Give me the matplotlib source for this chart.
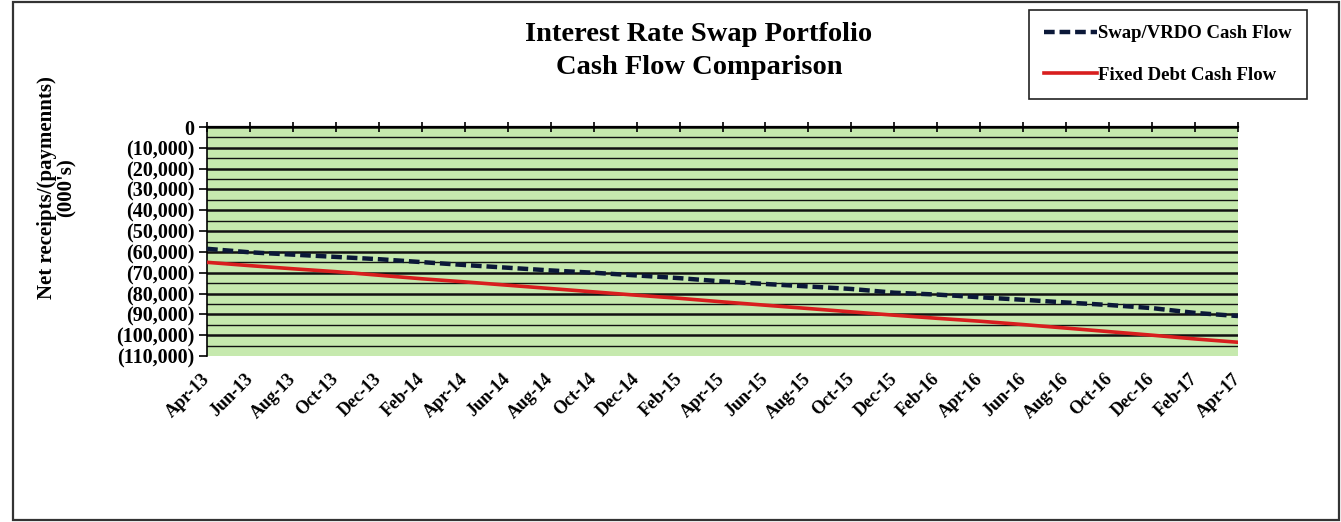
import numpy as np
import matplotlib
matplotlib.use('Agg')
import matplotlib.pyplot as plt
from matplotlib.patches import Rectangle
from matplotlib.ticker import FuncFormatter, MultipleLocator

# tick labels every two months, Apr-13 .. Apr-17
months = ['Apr-13', 'Jun-13', 'Aug-13', 'Oct-13', 'Dec-13', 'Feb-14', 'Apr-14',
          'Jun-14', 'Aug-14', 'Oct-14', 'Dec-14', 'Feb-15', 'Apr-15', 'Jun-15',
          'Aug-15', 'Oct-15', 'Dec-15', 'Feb-16', 'Apr-16', 'Jun-16', 'Aug-16',
          'Oct-16', 'Dec-16', 'Feb-17', 'Apr-17']

# net cash flow (000's) at each labelled month
swap_vrdo = [-58500, -60200, -61300, -62400, -63500, -64900, -66300, -67600,
             -68900, -70000, -71300, -72600, -74200, -75400, -76600, -77800,
             -79600, -80500, -81800, -83000, -84300, -85500, -87000, -89300,
             -90800]
fixed_debt = [-65000, -66600, -68100, -69500, -71200, -72900, -74400, -76000,
              -77600, -79200, -80800, -82300, -84000, -85600, -87200, -88800,
              -90400, -91900, -93300, -94900, -96600, -98300, -100000, -101800,
              -103400]

plt.rcParams['font.family'] = 'Liberation Serif'
plt.rcParams['font.weight'] = 'bold'


def fmt_money(v, pos):
    if v == 0:
        return '0'
    if v < 0:
        return f'({-v:,.0f})'
    return f'{v:,.0f}'


fig = plt.figure(figsize=(13.41, 5.22), dpi=100)
ax = fig.add_axes([0.1544, 0.318, 0.7688, 0.4387])
ax.set_facecolor('#c6e9ae')

x = np.arange(len(months))
ax.set_xlim(0, len(months) - 1)
ax.set_ylim(-110000, 0)

# horizontal grid: heavy every 10k, lighter every 5k
for gy in np.arange(-105000, 1, 5000):
    heavy = gy % 10000 == 0
    ax.axhline(gy, color='#111111', lw=1.8 if heavy else 1.0, zorder=1)

ax.plot(x, fixed_debt, color='#d81e1e', lw=2.6, zorder=3, label='Fixed Debt Cash Flow')
ax.plot(x, swap_vrdo, color='#0b1838', lw=3.2, ls=(0, (2.4, 1.1)), zorder=4,
        label='Swap/VRDO Cash Flow')

ax.yaxis.set_major_locator(MultipleLocator(10000))
ax.yaxis.set_major_formatter(FuncFormatter(fmt_money))
ax.tick_params(axis='y', direction='out', length=6, width=1.2, labelsize=14.5, pad=3)

ax.set_xticks(x)
ax.set_xticklabels(months, rotation=45, ha='right', va='center', rotation_mode='anchor',
                   fontsize=13, fontweight='bold')
ax.tick_params(axis='x', top=True, bottom=False, labeltop=False, labelbottom=True,
               direction='inout', length=7, width=1.2, pad=11)

for side in ['right', 'bottom']:
    ax.spines[side].set_visible(False)
ax.spines['left'].set_linewidth(1.2)
ax.spines['top'].set_linewidth(1.6)

fig.text(699 / 1341, 1 - 51 / 522, 'Interest Rate Swap Portfolio\nCash Flow Comparison',
         ha='center', va='center', fontsize=20.5, fontweight='bold', linespacing=1.45)

fig.text(57 / 1341, 1 - 188 / 522, "Net receipts/(paymennts)\n(000's)",
         ha='center', va='center', rotation=90, fontsize=15, fontweight='bold',
         multialignment='center', linespacing=1.0)

handles, labels = ax.get_legend_handles_labels()
leg = fig.legend(handles[::-1], labels[::-1], loc='upper right',
                 bbox_to_anchor=(1307 / 1341, 1 - 10 / 522), fancybox=False,
                 framealpha=1, edgecolor='#222222', fontsize=13.5,
                 handlelength=2.8, handletextpad=0.1, labelspacing=1.3,
                 borderpad=0.8, borderaxespad=0)
leg.get_frame().set_linewidth(1.2)

# outer frame around the whole chart
fig.patches.append(Rectangle((13 / 1341, 2 / 522), 1326 / 1341, 518 / 522,
                             transform=fig.transFigure, fill=False,
                             edgecolor='#333333', lw=1.6))

fig.savefig('out.png', dpi=100)
